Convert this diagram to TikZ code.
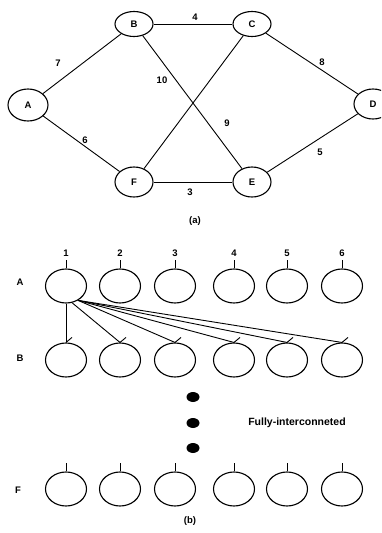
\documentclass[tikz,border=0pt]{standalone}
\usepackage{fontspec}
\setmainfont{Liberation Sans}
\usetikzlibrary{shapes.geometric}
\begin{document}
\begin{tikzpicture}[x=1pt,y=-1pt,
  gnode/.style={draw,ellipse,line width=1.1pt,minimum width=38pt,minimum height=25pt,inner sep=0pt,font=\bfseries\fontsize{9.5}{11}\selectfont},
  cell/.style={draw,ellipse,line width=1.1pt,minimum width=41pt,minimum height=34pt,inner sep=0pt},
  lbl/.style={font=\bfseries\fontsize{9.5}{11}\selectfont,inner sep=0pt},
  edge/.style={line width=0.9pt},
  dotn/.style={fill=black,ellipse,minimum width=13pt,minimum height=10pt,inner sep=0pt}]
\clip (0,0) rectangle (381,533);
% (a) graph
\node[gnode,minimum width=40pt,minimum height=32pt] (A) at (28,105) {A};
\node[gnode] (B) at (134,24) {B};
\node[gnode] (C) at (252,24) {C};
\node[gnode,minimum height=30pt] (D) at (373,104) {D};
\node[gnode,minimum height=30pt] (E) at (252,182) {E};
\node[gnode,minimum height=30pt] (F) at (134,182) {F};
\draw[edge] (A) -- (B);
\draw[edge] (A) -- (F);
\draw[edge] (B) -- (C);
\draw[edge] (B) -- (E);
\draw[edge] (C) -- (F);
\draw[edge] (C) -- (D);
\draw[edge] (D) -- (E);
\draw[edge] (F) -- (E);
\node[lbl] (w7) at (58,63) {7};
\node[lbl] (w4) at (195,17) {4};
\node[lbl] (w8) at (322,62) {8};
\node[lbl] (w10) at (162,80) {10};
\node[lbl] (w9) at (227,123) {9};
\node[lbl] (w6) at (85,140) {6};
\node[lbl] (w5) at (320,152) {5};
\node[lbl] (w3) at (190,192) {3};
\node[lbl] (capa) at (195,221) {(a)};
% (b) network
\foreach \i/\x in {1/66,2/120,3/175,4/234,5/287,6/342}{
  \node[lbl] (n\i) at (\x,253) {\i};
  \node[cell] (A\i) at (\x,286) {};
  \node[cell] (B\i) at (\x,360) {};
  \node[cell] (F\i) at (\x,489) {};
  \draw[edge] (A\i.north) -- ++(0,-8);
  \draw[edge] (F\i.north) -- ++(0,-8);
  \draw[edge] (B\i.north) -- ++(6,-5);
}
\node[lbl] (rA) at (20,282) {A};
\node[lbl] (rB) at (20,358) {B};
\node[lbl] (rF) at (18,490) {F};
\draw[edge] (A1.south) -- (B1.north);
\draw[edge] (A1.-70) -- (B2.north);
\foreach \i in {3,4,5,6}{
  \draw[edge] (A1.-50) -- (B\i.north);
}
\node[dotn] (d1) at (193,397) {};
\node[dotn] (d2) at (193,423) {};
\node[dotn] (d3) at (193,448) {};
\node[lbl,font=\bfseries\fontsize{10.5}{12}\selectfont] (fully) at (297,423) {Fully-interconneted};
\node[lbl] (capb) at (190,521) {(b)};
\end{tikzpicture}
\end{document}
